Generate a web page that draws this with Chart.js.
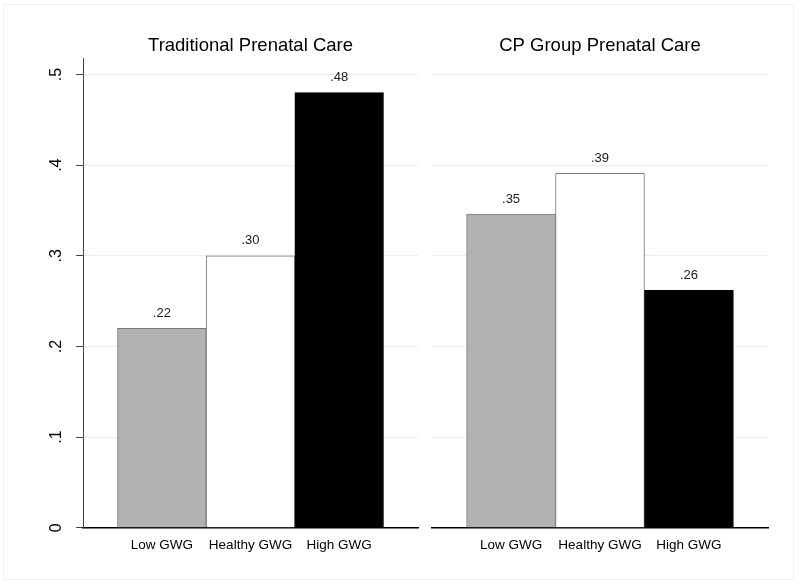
<!DOCTYPE html>
<html>
<head>
<meta charset="utf-8">
<script src="https://cdn.jsdelivr.net/npm/chart.js@4/dist/chart.umd.min.js"></script>
<style>
  body { margin: 0; background: #fff; }
  #wrap { position: relative; width: 800px; height: 585px; }
  #frame { position: absolute; left: 3px; top: 4px; width: 789px; height: 574px; border: 1px solid #f0f0f0; }
  canvas { position: absolute; top: 0; }
</style>
</head>
<body>
<div id="wrap">
  <div id="frame"></div>
  <canvas id="left-chart" width="425" height="585" style="left:0"></canvas>
  <canvas id="right-chart" width="375" height="585" style="left:425px"></canvas>
</div>
<script>
/* data */
const categories = ['Low GWG', 'Healthy GWG', 'High GWG'];
const panelTitles = ['Traditional Prenatal Care', 'CP Group Prenatal Care'];
const traditionalValues = [0.22, 0.30, 0.48];
const groupValues = [0.346, 0.391, 0.262];
const yTicks = [0, 0.1, 0.2, 0.3, 0.4, 0.5];

const fillColors = ['#b2b2b2', '#ffffff', '#000000'];
const edgeColors = ['#7a7a7a', '#7a7a7a', '#000000'];
const font = "'Liberation Sans', Arial, Helvetica, sans-serif";

function fmt(v) {
  return v === 0 ? '0' : v.toFixed(2).replace(/^0/, '');
}

// value labels above bars
const barLabels = {
  id: 'barLabels',
  afterDatasetsDraw(chart) {
    const ctx = chart.ctx;
    const meta = chart.getDatasetMeta(0);
    const vals = chart.data.datasets[0].data;
    ctx.save();
    ctx.font = '13px ' + font;
    ctx.fillStyle = '#1a1a1a';
    ctx.textAlign = 'center';
    ctx.textBaseline = 'middle';
    meta.data.forEach((bar, i) => {
      ctx.fillText(fmt(vals[i].y), bar.x, bar.y - 15);
    });
    ctx.restore();
  }
};

function makeConfig(title, values, showY) {
  return {
    type: 'bar',
    data: {
      datasets: [{
        data: values.map((v, i) => ({ x: i, y: v })),
        backgroundColor: fillColors,
        borderColor: edgeColors,
        borderWidth: 1,
        barPercentage: 1,
        categoryPercentage: 1
      }]
    },
    options: {
      responsive: false,
      animation: false,
      layout: { padding: { left: 0, right: showY ? 7 : 32, top: 0, bottom: 23 } },
      plugins: {
        legend: { display: false },
        tooltip: { enabled: false },
        title: {
          display: true,
          fullSize: false,
          text: title,
          color: '#000',
          font: { family: font, size: 18.5, weight: 'normal' },
          padding: { top: 35, bottom: 1 }
        }
      },
      scales: {
        x: {
          type: 'linear',
          offset: false,
          min: -0.889,
          max: 2.889,
          afterBuildTicks: (s) => { s.ticks = categories.map((c, i) => ({ value: i })); },
          ticks: {
            callback: (v) => categories[v],
            color: '#000',
            font: { family: font, size: 13.5 },
            padding: 9,
            maxRotation: 0,
            autoSkip: false
          },
          grid: { color: 'rgba(0,0,0,0)', drawTicks: false, offset: false },
          border: { color: '#000', width: 1.5 }
        },
        y: {
          min: 0,
          max: 0.518,
          afterBuildTicks: (s) => { s.ticks = yTicks.map(v => ({ value: v })); },
          afterFit: (s) => {
            s.width = showY ? 83 : 7;
            s.paddingTop = 0;
            s.paddingBottom = 0;
          },
          ticks: {
            display: showY,
            callback: (v) => fmt(v).replace(/0$/, '') || '0',
            color: '#000',
            font: { family: font, size: 16 },
            minRotation: 90,
            maxRotation: 90,
            crossAlign: 'center',
            padding: 13
          },
          grid: {
            color: '#e6eef0',
            tickColor: '#444',
            tickLength: 7,
            drawTicks: showY
          },
          border: { display: showY, color: '#444', width: 1 }
        }
      }
    },
    plugins: [barLabels]
  };
}

new Chart(document.getElementById('left-chart'), makeConfig(panelTitles[0], traditionalValues, true));
new Chart(document.getElementById('right-chart'), makeConfig(panelTitles[1], groupValues, false));
</script>
</body>
</html>
